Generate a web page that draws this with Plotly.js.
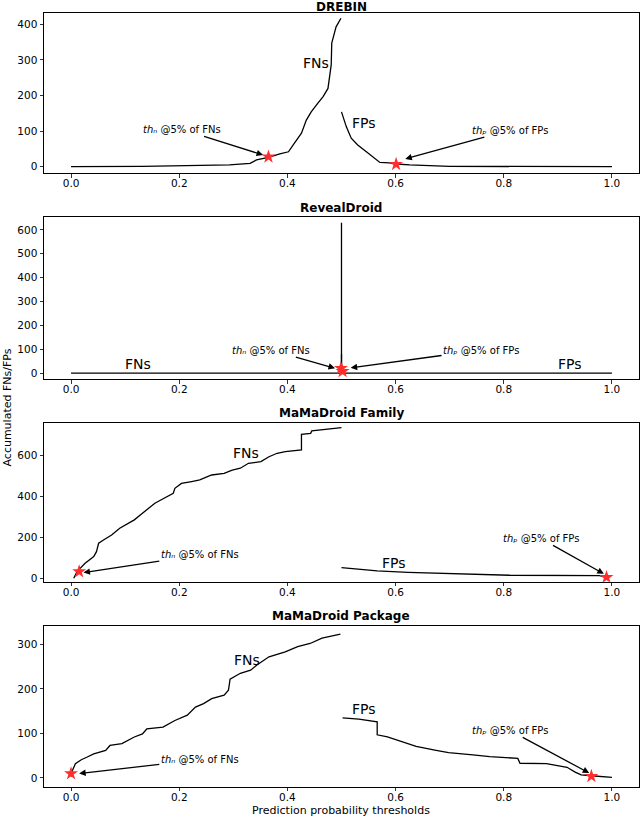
<!DOCTYPE html>
<html>
<head>
<meta charset="utf-8">
<script src="https://cdn.plot.ly/plotly-3.0.1.min.js"></script>
<style>html,body{margin:0;padding:0;background:#fff;}#chart{width:640px;height:817px;}</style>
</head>
<body>
<div id="chart"></div>
<script>
// ---------- data ----------
const panelTitles = ["DREBIN", "RevealDroid", "MaMaDroid Family", "MaMaDroid Package"];
const xTickVals = [0, 0.2, 0.4, 0.6, 0.8, 1.0];

// DREBIN
const drebinFnX = [0, 0.132, 0.293, 0.331, 0.343, 0.365, 0.386, 0.402, 0.413, 0.426, 0.435, 0.444, 0.456, 0.466, 0.475, 0.478, 0.48, 0.481, 0.482, 0.486, 0.49, 0.499];
const drebinFnY = [0, 1, 5, 9.5, 19, 26, 36, 42, 66, 94, 131, 154, 178, 197, 220, 253, 281, 286, 347, 370, 393, 417];
const drebinFpX = [0.5, 0.509, 0.518, 0.53, 0.546, 0.558, 0.571, 0.589, 0.601, 0.626, 0.663, 0.7, 1.0];
const drebinFpY = [154, 112, 80, 61, 42, 28, 12, 11, 7.6, 5, 3, 1, 0];
const drebinStarX = [0.365, 0.601];
const drebinStarY = [28, 7];

// RevealDroid
const revealFnX = [0, 0.5, 0.5];
const revealFnY = [0, 0, 630];
const revealFpX = [0.5, 0.5, 0.503, 1.0];
const revealFpY = [80, 5, 0, 0];
const revealStarX = [0.499, 0.502];
const revealStarY = [20, 7];

// MaMaDroid Family
const familyFnX = [0.005, 0.011, 0.026, 0.042, 0.047, 0.051, 0.06, 0.075, 0.09, 0.106, 0.117, 0.128, 0.14, 0.155, 0.166, 0.177, 0.189, 0.192, 0.204, 0.223, 0.238, 0.26, 0.283, 0.298, 0.313, 0.328, 0.351, 0.366, 0.381, 0.396, 0.426, 0.426, 0.443, 0.445, 0.472, 0.5];
const familyFnY = [0, 33, 73, 106, 130, 171, 187, 211, 244, 268, 285, 309, 333, 366, 382, 398, 415, 439, 463, 472, 480, 504, 512, 528, 537, 561, 569, 593, 610, 618, 626, 702, 707, 719, 727, 735];
const familyFpX = [0.5, 0.525, 0.566, 0.623, 0.736, 0.811, 0.977, 0.992];
const familyFpY = [52, 46, 36, 29, 21, 15, 13, 3];
const familyStarX = [0.015, 0.99];
const familyStarY = [33, 5];

// MaMaDroid Package
const packageFnX = [0, 0.002, 0.008, 0.019, 0.03, 0.042, 0.064, 0.072, 0.094, 0.117, 0.132, 0.14, 0.17, 0.192, 0.215, 0.23, 0.245, 0.26, 0.283, 0.291, 0.294, 0.313, 0.332, 0.343, 0.366, 0.396, 0.419, 0.442, 0.464, 0.498];
const packageFnY = [3, 15, 32, 41, 47, 54, 62, 73, 77, 92, 99, 110, 114, 129, 141, 159, 167, 178, 186, 197, 222, 235, 242, 253, 272, 283, 295, 302, 314, 323];
const packageFpX = [0.502, 0.532, 0.566, 0.566, 0.585, 0.615, 0.638, 0.675, 0.698, 0.743, 0.774, 0.826, 0.83, 0.879, 0.917, 0.932, 0.943, 0.962, 1.0];
const packageFpY = [135, 132, 126, 97, 92, 80, 71, 62, 57, 52, 48, 44, 33, 32, 24, 13, 7, 5, 1.5];
const packageStarX = [0, 0.962];
const packageStarY = [10, 4];

const yTickVals = [[0,100,200,300,400],[0,100,200,300,400,500,600],[0,200,400,600],[0,100,200,300]];

// ---------- layout helpers ----------
const FONT = "DejaVu Sans, Liberation Sans, sans-serif";
const yDomains = [[0.7879, 0.9837], [0.5361, 0.7340], [0.2880, 0.4826], [0.0371, 0.2342]];
const yRanges = [[-18.5, 431], [-25, 653], [-16.6, 759], [-19.6, 342]];
const titleShift = [6.5, 9, 9.5, 10];
const series = [
  [drebinFnX, drebinFnY, drebinFpX, drebinFpY, drebinStarX, drebinStarY],
  [revealFnX, revealFnY, revealFpX, revealFpY, revealStarX, revealStarY],
  [familyFnX, familyFnY, familyFpX, familyFpY, familyStarX, familyStarY],
  [packageFnX, packageFnY, packageFpX, packageFpY, packageStarX, packageStarY]
];

// annotation placement per panel (text centre and arrow head, data units)
const annPos = [
  {fn:[0.453,292], fp:[0.542,122], thn:[0.205,105], thnHead:[0.355,33], thp:[0.811,103], thpHead:[0.618,22]},
  {fn:[0.123,36],  fp:[0.923,36],  thn:[0.37,96],   thnHead:[0.488,20], thp:[0.758,96],  thpHead:[0.517,22]},
  {fn:[0.323,613], fp:[0.598,73],  thn:[0.238,114], thnHead:[0.023,28], thp:[0.868,195], thpHead:[0.985,22]},
  {fn:[0.325,265], fp:[0.541,154], thn:[0.238,41],  thnHead:[0.015,10], thp:[0.811,107], thpHead:[0.958,11]}
];

const thnText = "<i>th\u2099</i> @5% of FNs";
const thpText = "<i>th\u209A</i> @5% of FPs";

const traces = [];
const layout = {
  width: 640, height: 817,
  margin: {l: 0, r: 0, t: 0, b: 0},
  paper_bgcolor: "#fff", plot_bgcolor: "#fff",
  showlegend: false,
  font: {family: FONT, color: "#000"},
  annotations: []
};

series.forEach((s, i) => {
  const n = i === 0 ? "" : String(i + 1);
  const xa = "x" + n, ya = "y" + n;
  traces.push({x: s[0], y: s[1], xaxis: xa, yaxis: ya, mode: "lines", line: {color: "#000", width: 1.3}, hoverinfo: "skip"});
  traces.push({x: s[2], y: s[3], xaxis: xa, yaxis: ya, mode: "lines", line: {color: "#000", width: 1.3}, hoverinfo: "skip"});
  traces.push({x: s[4], y: s[5], xaxis: xa, yaxis: ya, mode: "markers",
    marker: {symbol: "star", size: 10.5, color: "rgb(255,45,45)", line: {width: 0}}, hoverinfo: "skip"});

  layout["xaxis" + n] = {
    domain: [0.06875, 0.9984], anchor: ya, range: [-0.05, 1.05],
    tickvals: xTickVals, tickformat: ".1f",
    ticks: "outside", ticklen: 3.5, tickwidth: 0.8, tickcolor: "#000",
    ticklabelstandoff: -3,
    showline: true, mirror: true, linecolor: "#000", linewidth: 1,
    showgrid: false, zeroline: false,
    tickfont: {family: FONT, size: 10.5, color: "#000"}
  };
  layout["yaxis" + n] = {
    domain: yDomains[i], anchor: xa, range: yRanges[i],
    tickvals: yTickVals[i],
    ticks: "outside", ticklen: 3.5, tickwidth: 0.8, tickcolor: "#000",
    showline: true, mirror: true, linecolor: "#000", linewidth: 1,
    showgrid: false, zeroline: false,
    tickfont: {family: FONT, size: 10.5, color: "#000"}
  };

  const p = annPos[i];
  const A = layout.annotations;
  A.push({xref: xa + " domain", yref: ya + " domain", x: 0.5, y: 1, yshift: titleShift[i], yanchor: "middle",
    showarrow: false, text: "<b>" + panelTitles[i] + "</b>", font: {family: FONT, size: 12, color: "#000"}});
  A.push({xref: xa, yref: ya, x: p.fn[0], y: p.fn[1], showarrow: false, text: "FNs", font: {family: FONT, size: 14, color: "#000"}});
  A.push({xref: xa, yref: ya, x: p.fp[0], y: p.fp[1], showarrow: false, text: "FPs", font: {family: FONT, size: 14, color: "#000"}});
  A.push({xref: xa, yref: ya, axref: xa, ayref: ya, x: p.thnHead[0], y: p.thnHead[1], ax: p.thn[0], ay: p.thn[1],
    text: thnText, font: {family: FONT, size: 10, color: "#000"},
    showarrow: true, arrowhead: 2, arrowsize: 1, arrowwidth: 1.3, arrowcolor: "#000"});
  A.push({xref: xa, yref: ya, axref: xa, ayref: ya, x: p.thpHead[0], y: p.thpHead[1], ax: p.thp[0], ay: p.thp[1],
    text: thpText, font: {family: FONT, size: 10, color: "#000"},
    showarrow: true, arrowhead: 2, arrowsize: 1, arrowwidth: 1.3, arrowcolor: "#000"});
});

layout.annotations.push({xref: "paper", yref: "paper", x: 7 / 640, y: 1 - 407.5 / 817, xanchor: "center", yanchor: "middle",
  textangle: -90, showarrow: false, text: "Accumulated FNs/FPs", font: {family: FONT, size: 11, color: "#000"}});
layout.annotations.push({xref: "x4 domain", yref: "paper", x: 0.5, y: 1 - 810.5 / 817, xanchor: "center", yanchor: "middle",
  showarrow: false, text: "Prediction probability thresholds", font: {family: FONT, size: 11, color: "#000"}});

Plotly.newPlot("chart", traces, layout, {displayModeBar: false, staticPlot: true});
</script>
</body>
</html>
